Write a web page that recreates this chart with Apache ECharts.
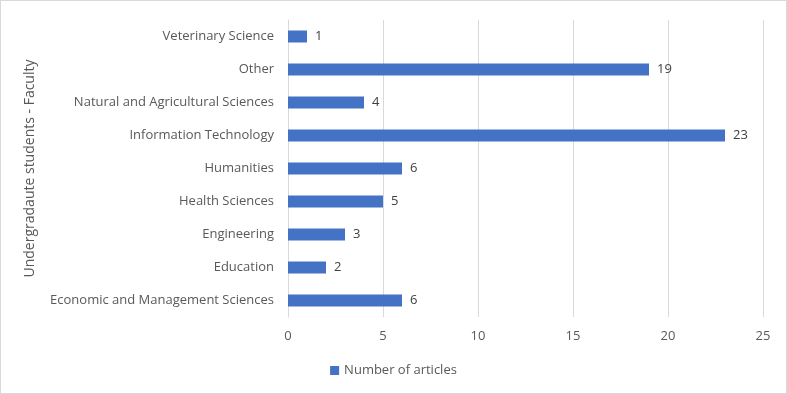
<!DOCTYPE html>
<html>
<head>
<meta charset="utf-8">
<script src="https://cdn.jsdelivr.net/npm/echarts@6/dist/echarts.min.js"></script>
<style>
  html, body { margin: 0; padding: 0; background: #fff; }
  #chart { width: 785px; height: 392px; border: 1px solid #d9d9d9; }
</style>
</head>
<body>
<div id="chart"></div>
<script>
// faculties, bottom to top
var faculties = ['Economic and Management Sciences', 'Education', 'Engineering', 'Health Sciences',
    'Humanities', 'Information Technology', 'Natural and Agricultural Sciences', 'Other', 'Veterinary Science'];
var articles = [6, 2, 3, 5, 6, 23, 4, 19, 1];
var xTicks = [0, 5, 10, 15, 20, 25];

var font = '"Open Sans", sans-serif';
var myChart = echarts.init(document.getElementById('chart'));
var option = {
    animation: false,
    textStyle: { fontFamily: font },
    grid: { left: 287, right: 23, top: 19, bottom: 76 },
    legend: {
        bottom: 11,
        left: 'center',
        itemWidth: 9,
        itemHeight: 9,
        itemGap: 4,
        icon: 'rect',
        textStyle: { color: '#595959', fontSize: 13, fontFamily: font },
        data: ['Number of articles']
    },
    xAxis: {
        type: 'value',
        min: xTicks[0],
        max: xTicks[xTicks.length - 1],
        interval: 5,
        axisLine: { show: false },
        axisTick: { show: false },
        axisLabel: { color: '#595959', fontSize: 13, margin: 13, fontFamily: font },
        splitLine: { lineStyle: { color: '#d9d9d9', width: 1 } }
    },
    yAxis: {
        type: 'category',
        data: faculties,
        name: 'Undergradaute students - Faculty',
        nameLocation: 'middle',
        nameGap: 251,
        nameRotate: 90,
        nameTextStyle: { color: '#595959', fontSize: 14, fontFamily: font },
        axisLine: { lineStyle: { color: '#d9d9d9' } },
        axisTick: { show: false },
        axisLabel: { color: '#595959', fontSize: 13, margin: 14, fontFamily: font }
    },
    series: [{
        name: 'Number of articles',
        type: 'bar',
        data: articles,
        barWidth: 12,
        itemStyle: { color: '#4472c4' },
        label: {
            show: true,
            position: 'right',
            distance: 8,
            color: '#404040',
            fontSize: 13,
            fontFamily: font
        }
    }]
};
myChart.setOption(option);
</script>
</body>
</html>
